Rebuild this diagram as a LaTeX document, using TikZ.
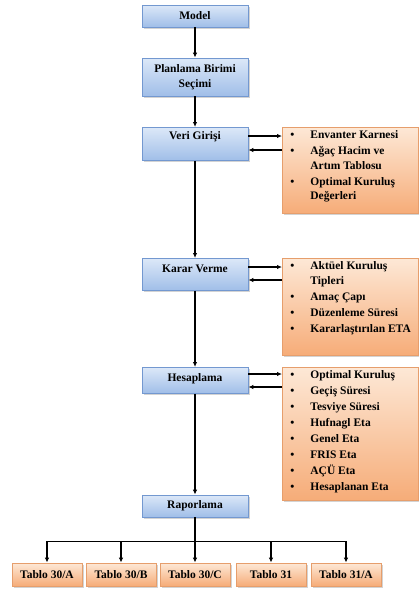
\documentclass[tikz,border=0pt]{standalone}
\usepackage{fontspec}
\setmainfont{Liberation Serif}
\usetikzlibrary{arrows.meta,positioning,shadows,calc}
\definecolor{boxblue}{RGB}{160,190,232}
\definecolor{boxbluelight}{RGB}{220,232,248}
\definecolor{bordblue}{RGB}{115,152,208}
\definecolor{softorange}{RGB}{246,172,120}
\definecolor{softorangelight}{RGB}{253,232,214}
\definecolor{bordorange}{RGB}{230,158,108}

% bullet line of a list box
\newcommand{\itm}[1]{\par\noindent\hangindent=28pt\hangafter=1\hbox to 28pt{\hskip8pt\textbullet\hfil}#1\par\vspace{1.5pt}}
% list box of fixed height
\newcommand{\lst}[2]{\parbox[c][#1][t]{136pt}{\raggedright\vspace*{3.5pt}#2}}

\begin{document}
\begin{tikzpicture}[x=1pt, y=-1pt,
    font=\fontsize{11.5}{14.5}\selectfont\bfseries,
    blk/.style={rectangle, draw=bordblue, line width=0.8pt,
        top color=boxbluelight, bottom color=boxblue,
        minimum width=106pt, inner sep=3pt, align=center,
        drop shadow={shadow xshift=1.5pt, shadow yshift=-1.5pt, opacity=0.35}},
    info/.style={rectangle, draw=bordorange, line width=0.8pt,
        top color=softorangelight, bottom color=softorange,
        inner sep=0pt, anchor=north west,
        drop shadow={shadow xshift=1.5pt, shadow yshift=-1.5pt, opacity=0.35}},
    tbl/.style={info, anchor=center, minimum width=70pt, minimum height=23pt,
        inner sep=2pt},
    arr/.style={-{Latex[length=5pt,width=4.5pt]}, line width=1.2pt, black},
    line/.style={line width=1.2pt, black}
]
    \useasboundingbox (0,0) rectangle (418,589);

    % main column
    \node[blk, minimum height=22pt] (model) at (195,16) {Model};
    \node[blk, minimum height=38pt] (plan) at (195,77) {Planlama Birimi\\Seçimi};
    \node[blk, anchor=north, text height=9pt, text depth=18pt] (veri) at (195,127) {Veri Girişi};
    \node[blk, anchor=north, text height=11pt, text depth=15pt] (karar) at (195,258) {Karar Verme};
    \node[blk, anchor=north, text height=11pt, text depth=9pt] (hesap) at (195,367) {Hesaplama};
    \node[blk, minimum height=22pt] (rapor) at (195,506) {Raporlama};

    % side lists
    \node[info] (env) at (282,127) {\lst{86pt}{%
        \itm{Envanter Karnesi}
        \itm{Ağaç Hacim ve\newline Artım Tablosu}
        \itm{Optimal Kuruluş\newline Değerleri}}};
    \node[info] (tip) at (282,258) {\lst{97pt}{%
        \itm{Aktüel Kuruluş\newline Tipleri}
        \itm{Amaç Çapı}
        \itm{Düzenleme Süresi}
        \itm{Kararlaştırılan ETA}}};
    \node[info] (opt) at (282,367) {\lst{133pt}{%
        \itm{Optimal Kuruluş}
        \itm{Geçiş Süresi}
        \itm{Tesviye Süresi}
        \itm{Hufnagl Eta}
        \itm{Genel Eta}
        \itm{FRIS Eta}
        \itm{AÇÜ Eta}
        \itm{Hesaplanan Eta}}};

    % tables
    \node[tbl] (t1) at (47,574.5) {Tablo 30/A};
    \node[tbl] (t2) at (121,574.5) {Tablo 30/B};
    \node[tbl] (t3) at (195,574.5) {Tablo 30/C};
    \node[tbl] (t4) at (271,574.5) {Tablo 31};
    \node[tbl] (t5) at (346,574.5) {Tablo 31/A};

    \draw[arr] (model) -- (plan);
    \draw[arr] (plan) -- (veri);
    \draw[arr] (veri) -- (karar);
    \draw[arr] (karar) -- (hesap);
    \draw[arr] (hesap) -- (rapor);

    \draw[arr] ($(veri.north east)+(0,9)$) -- ($(env.north west)+(0,9)$);
    \draw[arr] ($(env.north west)+(0,23)$) -- ($(veri.north east)+(0,23)$);
    \draw[arr] ($(karar.north east)+(0,9)$) -- ($(tip.north west)+(0,9)$);
    \draw[arr] ($(tip.north west)+(0,22)$) -- ($(karar.north east)+(0,22)$);
    \draw[arr] ($(hesap.north east)+(0,7)$) -- ($(opt.north west)+(0,7)$);
    \draw[arr] ($(opt.north west)+(0,20)$) -- ($(hesap.north east)+(0,20)$);

    \draw[line] (rapor.south) -- ++(0,24) coordinate (split);
    \draw[line] (t1.north |- split) -- (t5.north |- split);
    \foreach \t in {t1,t2,t3,t4,t5}
        \draw[arr] (\t.north |- split) -- (\t.north);
\end{tikzpicture}
\end{document}
